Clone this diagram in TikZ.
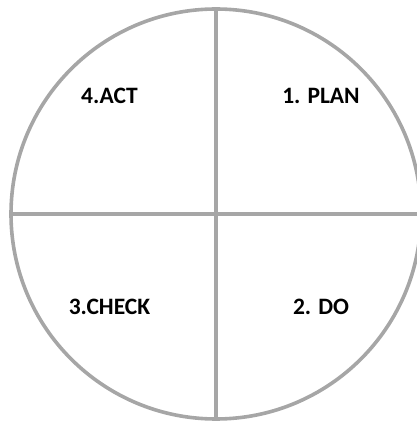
\documentclass[tikz,border=0pt]{standalone}
\usepackage{fontspec}
\setmainfont{Carlito}
\usepackage{tikz}
\usetikzlibrary{positioning}
\definecolor{ringgray}{RGB}{166,166,166}

\begin{document}
\begin{tikzpicture}[
  x=1pt,y=1pt,
  line cap=butt,
  ring/.style={draw=ringgray,line width=3.6pt,circle,minimum size=410pt,inner sep=0pt},
  divider/.style={draw=ringgray,line width=3.6pt},
  phase/.style={font=\bfseries\fontsize{23.5}{28}\selectfont,text=black,inner sep=0pt}
]
  \useasboundingbox (0,0) rectangle (417,424);

  % Main circle
  \node[ring] (cycle) at (216,210) {};
  \coordinate (rightend) at (417,210);

  % Quadrant dividers
  \draw[divider] (cycle.north) -- (cycle.south);
  \draw[divider] (cycle.west) -- (rightend);

  % Phase labels
  \node[phase] (plan)  at (321,328) {1. PLAN};
  \node[phase] (do)    at (321,117) {2. DO};
  \node[phase] (check) at (109.5,117) {3.CHECK};
  \node[phase] (act)   at (109.5,328) {4.ACT};
\end{tikzpicture}
\end{document}
